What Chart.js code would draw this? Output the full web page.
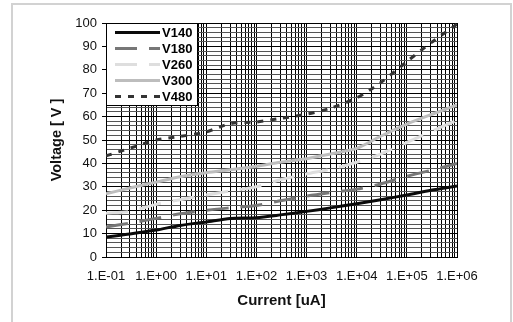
<!DOCTYPE html>
<html>
<head>
<meta charset="utf-8">
<script src="https://cdn.jsdelivr.net/npm/chart.js@4.4.1/dist/chart.umd.min.js"></script>
<style>
  html, body { margin: 0; padding: 0; background: #fff; }
  #wrap { position: relative; width: 513px; height: 322px; overflow: hidden; }
  #frame { position: absolute; left: 11px; top: 3px; width: 501px; height: 340px; border: 2px solid #d2d2d2; box-sizing: border-box; }
  canvas { position: absolute; left: 0; top: 0; }
</style>
</head>
<body>
<div id="wrap">
  <div id="frame"></div>
  <canvas id="myChart" width="513" height="322"></canvas>
</div>
<script>
// current [uA] sample points and voltage per series
var currentUA = [0.1, 0.3, 1, 3, 10, 30, 100, 300, 1e3, 3e3, 1e4, 3e4, 1e5, 3e5, 1e6];
var v140 = [8.5, 9.8, 11.5, 13.5, 15, 16.5, 16.8, 18, 19.5, 21, 22.8, 24.5, 26.5, 28.5, 30.3];
var v180 = [12.8, 14.5, 16.5, 18.5, 20, 21, 22, 24, 26, 27.5, 29, 31.2, 34.5, 37, 40];
var v260 = [18.7, 19.5, 22.5, 24.5, 26.5, 28.2, 30, 33, 35.5, 37.5, 40.5, 44, 49, 53.5, 58.5];
var v300 = [27, 29.5, 32, 34.3, 36, 37.3, 38.8, 40.5, 42, 44, 46.4, 51.6, 56.8, 60.8, 65];
var v480 = [43.2, 46.5, 50, 51.5, 53.5, 57, 57.7, 59.2, 61, 63.6, 68, 74.5, 83.5, 91.5, 99.5];

var seriesNames = ["V140", "V180", "V260", "V300", "V480"];
var xDecades = [0.1, 1, 10, 100, 1e3, 1e4, 1e5, 1e6];
var xTickLabels = ["1.E-01", "1.E+00", "1.E+01", "1.E+02", "1.E+03", "1.E+04", "1.E+05", "1.E+06"];

Chart.defaults.font.family = '"Liberation Sans", Arial, sans-serif';
Chart.defaults.color = "#111";

function pts(ys) {
  return currentUA.map(function (x, i) { return { x: x, y: ys[i] }; });
}

// grid positions 1..9 per decade
var xGrid = [];
for (var d = 0; d < xDecades.length - 1; d++) {
  for (var k = 1; k < 10; k++) xGrid.push(k * xDecades[d]);
}
xGrid.push(xDecades[xDecades.length - 1]);

function decadeIndex(v) {
  for (var i = 0; i < xDecades.length; i++) {
    if (Math.abs(Math.log10(v) - Math.log10(xDecades[i])) < 1e-6) return i;
  }
  return -1;
}

var boxLegend = {
  id: "boxLegend",
  afterDatasetsDraw: function (chart) {
    var ctx = chart.ctx;
    var x0 = chart.chartArea.left, y0 = chart.chartArea.top;
    ctx.save();
    ctx.fillStyle = "#fff";
    ctx.fillRect(x0, y0, 91, 82);
    ctx.strokeStyle = "#000";
    ctx.lineWidth = 1;
    ctx.strokeRect(x0 + 0.5, y0 + 0.5, 91, 82);
    chart.data.datasets.forEach(function (ds, i) {
      var y = y0 + 9.5 + i * 16;
      ctx.beginPath();
      ctx.setLineDash(ds.borderDash || []);
      ctx.strokeStyle = ds.borderColor;
      ctx.lineWidth = ds.borderWidth;
      ctx.moveTo(x0 + 9, y);
      ctx.lineTo(x0 + 54, y);
      ctx.stroke();
      ctx.setLineDash([]);
      ctx.fillStyle = "#000";
      ctx.font = 'bold 13px "Liberation Sans", Arial, sans-serif';
      ctx.textBaseline = "middle";
      ctx.fillText(ds.label, x0 + 56, y + 0.5);
    });
    ctx.restore();
  }
};

function line(name, ys, color, dash) {
  return {
    label: name,
    data: pts(ys),
    borderColor: color,
    borderWidth: 3,
    borderDash: dash,
    pointRadius: 0,
    tension: 0.25,
    fill: false
  };
}

var ctx = document.getElementById("myChart").getContext("2d");
var myChart = new Chart(ctx, {
  type: "line",
  data: {
    datasets: [
      line(seriesNames[0], v140, "#0a0a0a", []),
      line(seriesNames[1], v180, "#777777", [22, 12]),
      line(seriesNames[2], v260, "#dedede", [22, 12]),
      line(seriesNames[3], v300, "#bdbdbd", []),
      line(seriesNames[4], v480, "#333333", [6, 7])
    ]
  },
  options: {
    responsive: false,
    animation: false,
    devicePixelRatio: 1,
    layout: { padding: { left: 0, top: 23, right: 56, bottom: 0 } },
    plugins: {
      legend: { display: false },
      tooltip: { enabled: false }
    },
    scales: {
      x: {
        type: "logarithmic",
        min: 0.1,
        max: 1e6,
        afterBuildTicks: function (scale) {
          scale.ticks = xGrid.map(function (v) { return { value: v, major: decadeIndex(v) >= 0 }; });
        },
        afterFit: function (scale) { scale.height = 65; },
        grid: { color: "#000", lineWidth: 1, drawTicks: false },
        border: { color: "#000", width: 1 },
        ticks: {
          autoSkip: false,
          maxRotation: 0,
          minRotation: 0,
          padding: 12,
          font: { size: 13 },
          callback: function (v) {
            var i = decadeIndex(v);
            return i >= 0 ? xTickLabels[i] : "";
          }
        },
        title: {
          display: true,
          text: "Current [uA]",
          font: { size: 15, weight: "bold" },
          padding: { top: 0, bottom: 12 }
        }
      },
      y: {
        min: 0,
        max: 100,
        afterFit: function (scale) { scale.width = 106; },
        grid: {
          color: function (c) { return c.tick && c.tick.value % 10 === 0 ? "#000" : "#555"; },
          tickColor: function (c) { return c.tick && c.tick.value % 10 === 0 ? "#000" : "rgba(0,0,0,0)"; },
          tickLength: 4
        },
        border: { color: "#000", width: 1 },
        ticks: {
          stepSize: 2,
          autoSkip: false,
          padding: 5,
          font: { size: 13 },
          callback: function (v) { return v % 10 === 0 ? v : ""; }
        },
        title: {
          display: true,
          text: "Voltage [ V ]",
          font: { size: 14.5, weight: "bold" },
          padding: { top: 48, bottom: 0 }
        }
      }
    }
  },
  plugins: [boxLegend]
});
</script>
</body>
</html>
